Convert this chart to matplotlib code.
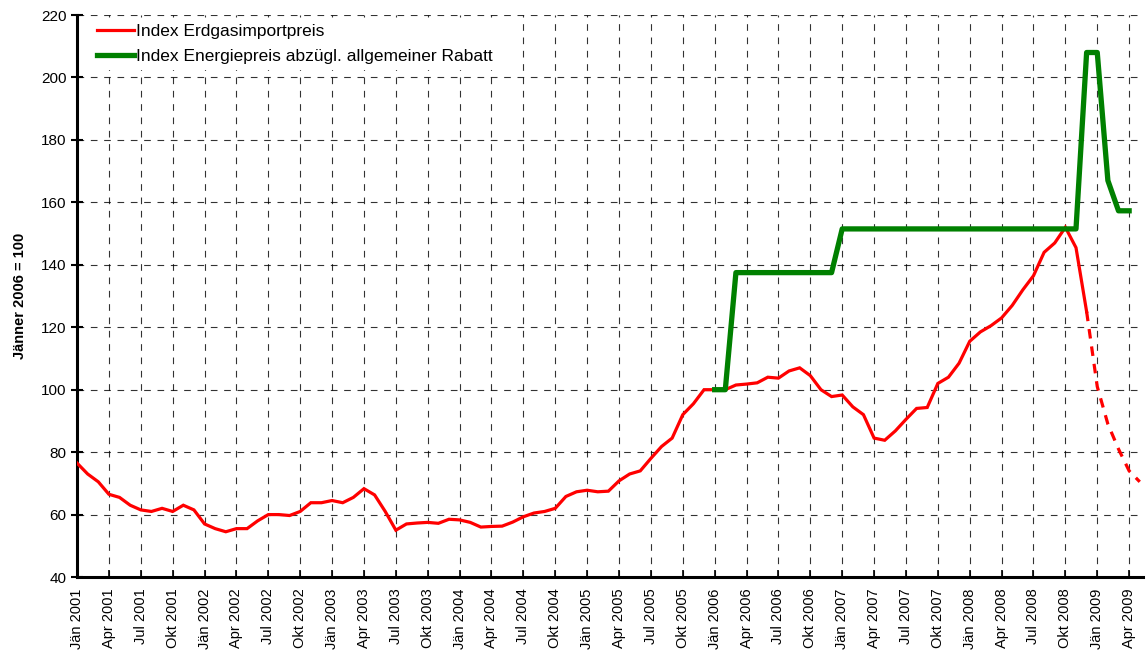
import numpy as np
import matplotlib
matplotlib.use("Agg")
import matplotlib.pyplot as plt

plt.rcParams['font.family'] = ['Liberation Sans', 'DejaVu Sans']

# Index Erdgasimportpreis, monatlich ab Jän 2001 (Jänner 2006 = 100)
gas_import = [76.5, 73, 70.5, 66.5, 65.5, 63, 61.5, 61, 62, 61, 63, 61.5,
              57, 55.5, 54.5, 55.5, 55.5, 58, 60, 60, 59.7, 61, 63.8, 63.8,
              64.5, 63.8, 65.5, 68.3, 66.3, 61, 55, 57, 57.3, 57.5, 57.2, 58.5,
              58.3, 57.5, 56, 56.2, 56.3, 57.6, 59.3, 60.5, 61, 62, 65.8, 67.3,
              67.8, 67.3, 67.5, 70.8, 73, 74, 78, 81.8, 84.5, 92, 95.5, 100,
              100, 100, 101.5, 101.8, 102.2, 104, 103.7, 106, 107, 104.5, 100, 97.8,
              98.3, 94.5, 92, 84.5, 83.8, 86.8, 90.5, 94, 94.3, 102, 104, 108.5,
              115.5, 118.5, 120.5, 123, 127, 132, 136.5, 144, 147, 152, 145.5, 125]
# Prognose (gestrichelt), ab Dez 2008
gas_forecast = [125, 101, 89, 81, 74, 70.5]

# Index Energiepreis abzügl. allgemeiner Rabatt, ab Jän 2006
energy_start = 60
energy_price = [100, 100] + [137.5] * 10 + [151.5] * 23 + [208, 208, 167, 157.3, 157.3]

quarters = ['Jän', 'Apr', 'Jul', 'Okt']
tick_labels = [f'{quarters[q]} {y}' for y in range(2001, 2010) for q in range(4)][:34]

fig = plt.figure(figsize=(11.48, 6.54), dpi=100)
ax = fig.add_axes([0.0671, 0.1177, 0.9285, 0.8593])

x_gas = np.arange(len(gas_import))
x_fc = np.arange(len(gas_import) - 1, len(gas_import) - 1 + len(gas_forecast))
x_en = np.arange(energy_start, energy_start + len(energy_price))

ax.plot(x_gas, gas_import, color='#ff0000', lw=2.3, label='Index Erdgasimportpreis',
        solid_joinstyle='miter', zorder=3)
ax.plot(x_fc, gas_forecast, color='#ff0000', lw=2.3, dashes=(3, 2.5), zorder=3)
ax.plot(x_en, energy_price, color='#008000', lw=3.8,
        label='Index Energiepreis abzügl. allgemeiner Rabatt', zorder=4)

ax.set_xlim(0, 100.3)
ax.set_ylim(40, 220)
ax.set_yticks(np.arange(40, 221, 20))
ax.set_xticks(np.arange(0, 34 * 3, 3))
ax.set_xticklabels(tick_labels, rotation=90, fontsize=10.5)
ax.tick_params(axis='y', labelsize=11, direction='inout', length=8, width=1.5)
ax.tick_params(axis='x', direction='in', length=5, width=1.2, pad=8)

ax.grid(True, color='black', lw=0.8, dashes=(6, 6), alpha=0.8)
ax.set_axisbelow(True)
for s in ['top', 'right']:
    ax.spines[s].set_visible(False)
ax.spines['left'].set_linewidth(2.2)
ax.spines['bottom'].set_linewidth(2.2)

ax.set_ylabel('Jänner 2006 = 100', fontsize=10.5, fontweight='bold', labelpad=10)

leg = ax.legend(loc='upper left', frameon=True, fontsize=12.5, handlelength=2.1,
                handletextpad=0.1, labelspacing=0.6, borderaxespad=0.2,
                borderpad=0.3, bbox_to_anchor=(0.011, 1.0), fancybox=False)
leg.get_frame().set_facecolor('white')
leg.get_frame().set_edgecolor('none')
leg.get_frame().set_alpha(1)
leg.set_zorder(5)

fig.savefig('out.png', dpi=100)
